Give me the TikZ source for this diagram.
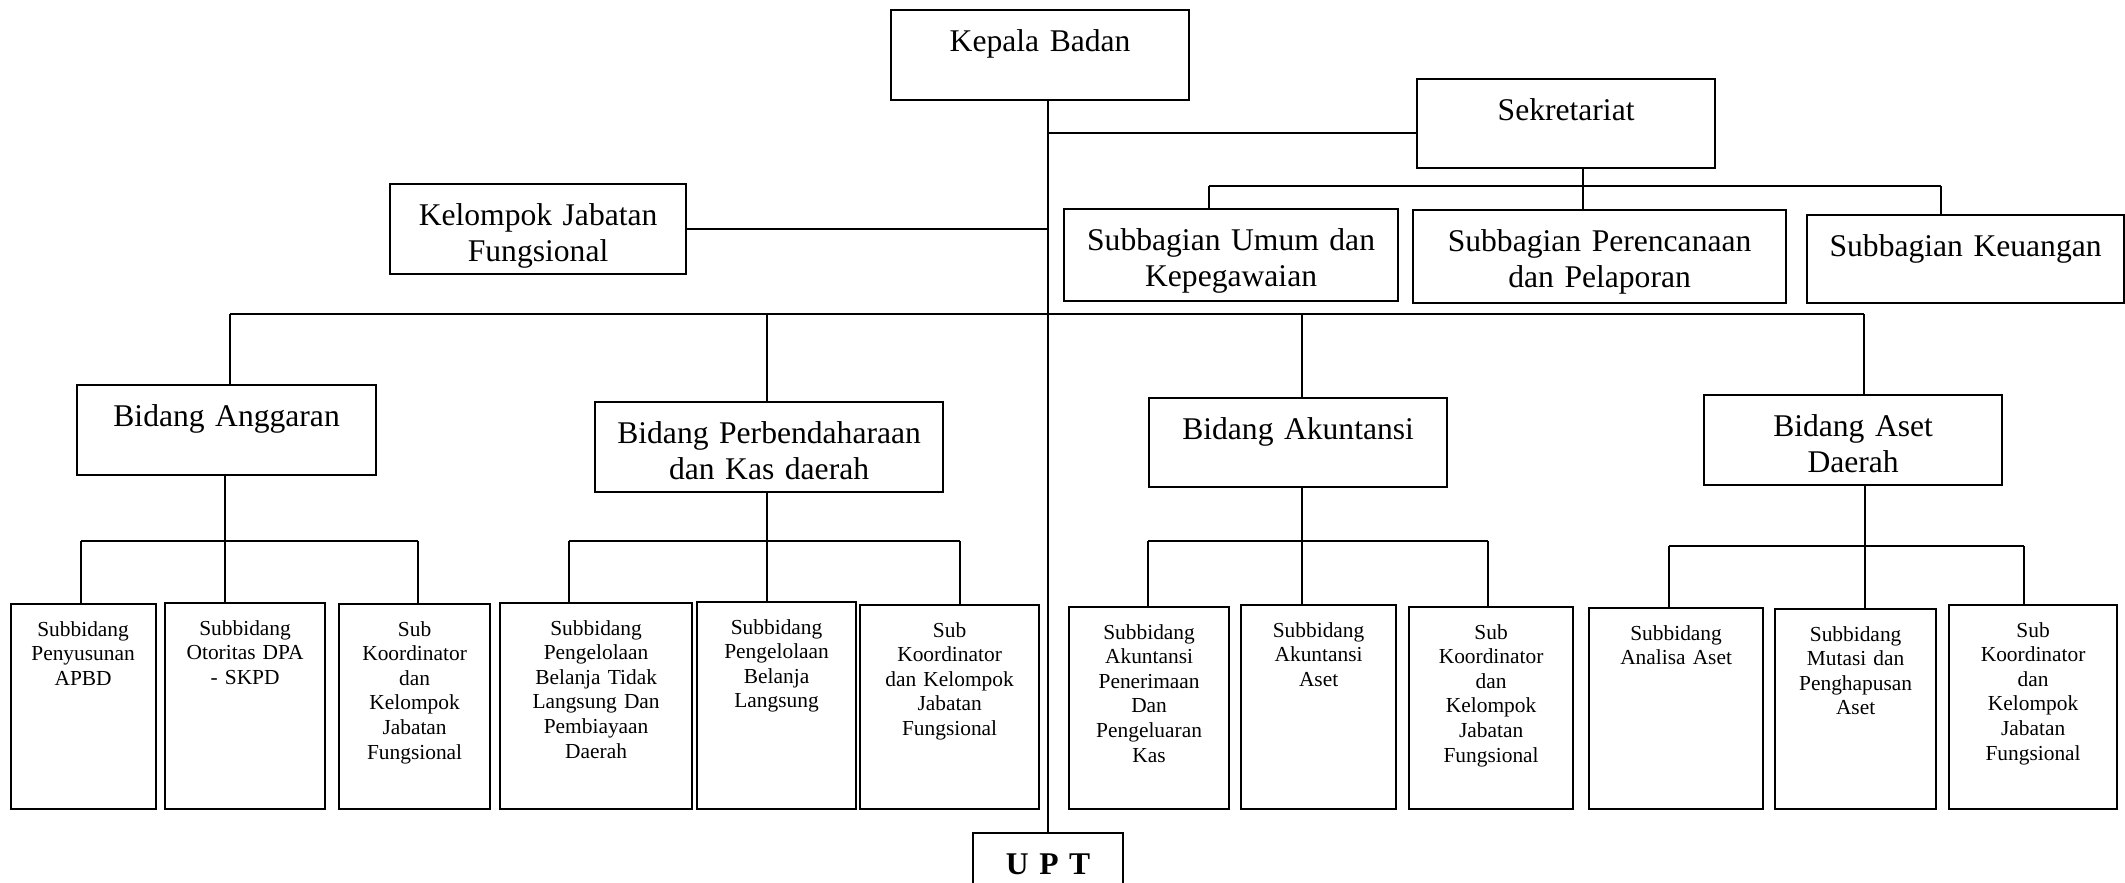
\documentclass[tikz,border=0pt]{standalone}
\usepackage{fontspec}
\setmainfont{Liberation Serif}
\tikzset{
  every picture/.style={
    line width=0.7pt
  },
  kotak/.style 2 args={draw, line width=1.1pt, anchor=north west, inner sep=0pt,
    align=center, text width=#1*0.5pt, text height=20.5pt, text depth=#2*0.5pt-20.5pt,
    font=\fontsize{15.8pt}{18.2pt}\selectfont},
  kecil/.style 2 args={draw, line width=1.1pt, anchor=north west, inner sep=0pt,
    align=center, text width=#1*0.5pt, text height=16pt, text depth=#2*0.5pt-16pt,
    font=\fontsize{10.7pt}{12.3pt}\selectfont},
  bus/.style={line width=1.1pt}
}
\begin{document}
\begin{tikzpicture}[x=0.5pt, y=-0.5pt]
  \useasboundingbox (0,0) rectangle (2125,883);

  \node[kotak={298}{90}] (kepala) at (890,9) {Kepala Badan};
  \node[kotak={298}{89}] (sekre) at (1416,78) {Sekretariat};
  \node[kotak={296}{90}] (kjf) at (389,183) {Kelompok Jabatan\\Fungsional};
  \node[kotak={334}{92}] (umum) at (1063,208) {Subbagian Umum dan\\Kepegawaian};
  \node[kotak={373}{93}] (renc) at (1412,209) {Subbagian Perencanaan\\dan Pelaporan};
  \node[kotak={317}{88}] (keu) at (1806,214) {Subbagian Keuangan};
  \node[kotak={299}{90}] (angg) at (76,384) {Bidang Anggaran};
  \node[kotak={348}{90}] (bend) at (594,401) {Bidang Perbendaharaan\\dan Kas daerah};
  \node[kotak={298}{89}] (akun) at (1148,397) {Bidang Akuntansi};
  \node[kotak={298}{90}] (aset) at (1703,394) {Bidang Aset\\Daerah};
  \node[kotak={150}{80}, font=\fontsize{15.8pt}{18.2pt}\selectfont\bfseries] (upt) at (972,832) {U P T};

  \node[kecil={145}{205}] (s1) at (9.5,603) {Subbidang\\Penyusunan\\APBD};
  \node[kecil={160}{206}] (s2) at (164,602) {Subbidang\\Otoritas DPA\\- SKPD};
  \node[kecil={151}{205}] (s3) at (338,603) {Sub\\Koordinator\\dan\\Kelompok\\Jabatan\\Fungsional};
  \node[kecil={192}{206}] (s4) at (499,602) {Subbidang\\Pengelolaan\\Belanja Tidak\\Langsung Dan\\Pembiayaan\\Daerah};
  \node[kecil={159}{207}] (s5) at (696,601) {Subbidang\\Pengelolaan\\Belanja\\Langsung};
  \node[kecil={179}{204}] (s6) at (859,604) {Sub\\Koordinator\\dan Kelompok\\Jabatan\\Fungsional};
  \node[kecil={160}{202}] (s7) at (1068,606) {Subbidang\\Akuntansi\\Penerimaan\\Dan\\Pengeluaran\\Kas};
  \node[kecil={155}{204}] (s8) at (1240,604) {Subbidang\\Akuntansi\\Aset};
  \node[kecil={164}{202}] (s9) at (1408,606) {Sub\\Koordinator\\dan\\Kelompok\\Jabatan\\Fungsional};
  \node[kecil={174}{201}] (s10) at (1588,607) {Subbidang\\Analisa Aset};
  \node[kecil={161}{200}] (s11) at (1774,608) {Subbidang\\Mutasi dan\\Penghapusan\\Aset};
  \node[kecil={168}{204}] (s12) at (1948,604) {Sub\\Koordinator\\dan\\Kelompok\\Jabatan\\Fungsional};

  % garis utama
  \draw (upt.north |- kepala.south) -- (upt.north);
  \coordinate (jsek) at (1049,133);
  \draw[bus] (jsek) -- (jsek -| sekre.west);
  \draw[bus] (kjf.east) -- (kjf.east -| upt.north);

  % sekretariat
  \coordinate (sekL) at (1209,186);
  \coordinate (sekM) at (1583,186);
  \coordinate (sekR) at (1941,186);
  \draw (sekM |- sekre.south) -- (sekM |- renc.north);
  \draw[bus] (sekL) -- (sekR);
  \draw (sekL) -- (sekL |- umum.north);
  \draw (sekR) -- (sekR |- keu.north);

  % bidang
  \coordinate (bid1) at (230,314);
  \coordinate (bid2) at (767,314);
  \coordinate (bid3) at (1302,314);
  \coordinate (bid4) at (1864,314);
  \draw[bus] (bid1) -- (bid4);
  \draw (bid1) -- (bid1 |- angg.north);
  \draw (bid2) -- (bid2 |- bend.north);
  \draw (bid3) -- (bid3 |- akun.north);
  \draw (bid4) -- (bid4 |- aset.north);

  % subbidang anggaran
  \coordinate (a1) at (81,541);
  \coordinate (a2) at (225,541);
  \coordinate (a3) at (418,541);
  \draw (a2 |- angg.south) -- (a2);
  \draw[bus] (a1) -- (a3);
  \draw (a1) -- (a1 |- s1.north);
  \draw (a2) -- (a2 |- s2.north);
  \draw (a3) -- (a3 |- s3.north);

  % subbidang perbendaharaan
  \coordinate (p1) at (569,541);
  \coordinate (p2) at (767,541);
  \coordinate (p3) at (960,541);
  \draw (p2 |- bend.south) -- (p2);
  \draw[bus] (p1) -- (p3);
  \draw (p1) -- (p1 |- s4.north);
  \draw (p2) -- (p2 |- s5.north);
  \draw (p3) -- (p3 |- s6.north);

  % subbidang akuntansi
  \coordinate (k1) at (1148,541);
  \coordinate (k2) at (1302,541);
  \coordinate (k3) at (1488,541);
  \draw (k2 |- akun.south) -- (k2);
  \draw[bus] (k1) -- (k3);
  \draw (k1) -- (k1 |- s7.north);
  \draw (k2) -- (k2 |- s8.north);
  \draw (k3) -- (k3 |- s9.north);

  % subbidang aset
  \coordinate (t1) at (1669,546);
  \coordinate (t2) at (1865,546);
  \coordinate (t3) at (2024,546);
  \draw (t2 |- aset.south) -- (t2);
  \draw[bus] (t1) -- (t3);
  \draw (t1) -- (t1 |- s10.north);
  \draw (t2) -- (t2 |- s11.north);
  \draw (t3) -- (t3 |- s12.north);
\end{tikzpicture}
\end{document}
